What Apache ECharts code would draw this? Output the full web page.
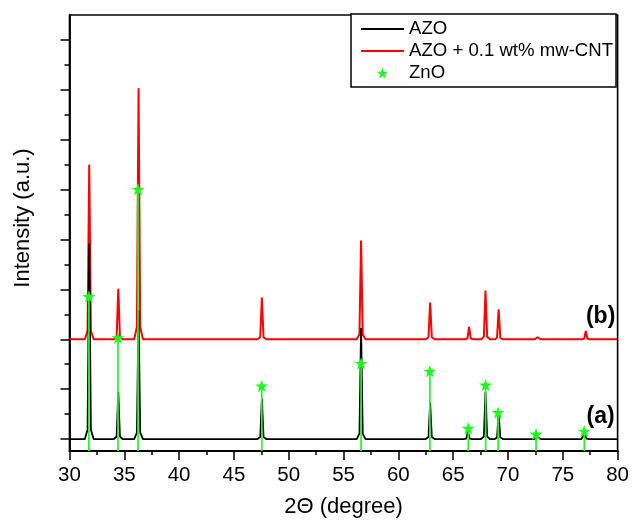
<!DOCTYPE html>
<html>
<head>
<meta charset="utf-8">
<script src="https://cdn.jsdelivr.net/npm/echarts@6/dist/echarts.min.js"></script>
<style>
html,body{margin:0;padding:0;background:#fff;}
#chart{width:632px;height:523px;}
</style>
</head>
<body>
<div id="chart"></div>
<script>
// ---- data ----
const seriesNames = ['AZO', 'AZO + 0.1 wt% mw-CNT', 'ZnO'];

// AZO (a): [2theta, intensity]
const azoCurve = [
  [30,0],
  [31.4,0],[31.65,190],[31.8,3920],[31.95,190],[32.2,0],
  [34.05,0],[34.3,50],[34.45,946],[34.6,50],[34.85,0],
  [35.9,0],[36.15,130],[36.3,2580],[36.45,130],[36.7,0],
  [47.15,0],[47.4,40],[47.55,808],[47.7,40],[47.95,0],
  [56.2,0],[56.45,110],[56.6,2226],[56.75,110],[57.0,0],
  [62.5,0],[62.75,40],[62.9,729],[63.05,40],[63.3,0],
  [65.95,0],[66.2,10],[66.35,158],[66.5,10],[66.75,0],
  [67.55,0],[67.8,50],[67.95,946],[68.1,50],[68.35,0],
  [68.8,0],[69.0,30],[69.15,512],[69.3,30],[69.55,0],
  [72.4,0],[72.7,40],[73.0,0],
  [76.7,0],[76.85,10],[77.0,118],[77.15,10],[77.4,0],
  [80,0]
];

// AZO + 0.1 wt% mw-CNT (b): [2theta, intensity] (offset baseline)
const cntCurve = [
  [30,2000],
  [31.4,2000],[31.65,2170],[31.8,5496],[31.95,2170],[32.2,2000],
  [34.05,2000],[34.3,2050],[34.45,3014],[34.6,2050],[34.85,2000],
  [35.9,2000],[36.15,2250],[36.3,7033],[36.45,2250],[36.7,2000],
  [47.15,2000],[47.4,2040],[47.55,2837],[47.7,2040],[47.95,2000],
  [56.2,2000],[56.45,2100],[56.6,3979],[56.75,2100],[57.0,2000],
  [62.5,2000],[62.75,2040],[62.9,2738],[63.05,2040],[63.3,2000],
  [66.05,2000],[66.3,2015],[66.45,2246],[66.6,2015],[66.85,2000],
  [67.55,2000],[67.8,2050],[67.95,2975],[68.1,2050],[68.35,2000],
  [68.8,2000],[69.0,2030],[69.15,2600],[69.3,2030],[69.55,2000],
  [72.45,2000],[72.7,2040],[72.95,2000],
  [76.75,2000],[76.95,2010],[77.1,2167],[77.25,2010],[77.45,2000],
  [80,2000]
];

// ZnO reference peaks
const znoPos = [31.77, 34.42, 36.25, 47.54, 56.6, 62.87, 66.38, 67.96, 69.1, 72.56, 76.96];
const znoInt = [2857, 2029, 5004, 1064, 1517, 1359, 217, 1084, 532, 99, 158];

// axis
const xMin = 30, xMax = 80, xStep = 5;
const yMin = -240, yMax = 8500;
const yMajorTicks = [0,1000,2000,3000,4000,5000,6000,7000,8000];
const yMinorTicks = [500,1500,2500,3500,4500,5500,6500,7500];

// curve labels
const curveLabels = [
  {text: '(b)', x: 78.45, y: 2460},
  {text: '(a)', x: 78.45, y: 450}
];

// ---- chart ----
const FONT = '"Liberation Sans", Arial, Helvetica, sans-serif';
const GREEN = '#1aff1a';
const starPath = 'path://M50,0 L61.2,34.5 L97.6,34.5 L68.2,55.9 L79.4,90.5 L50,69.1 L20.6,90.5 L31.8,55.9 L2.4,34.5 L38.8,34.5 Z';
const lineIcon = 'path://M0,0 L43,0 L43,2 L0,2 Z';

const chart = echarts.init(document.getElementById('chart'), null, {renderer: 'canvas'});

const znoData = znoPos.map((p, i) => [p, znoInt[i]]);

const option = {
  animation: false,
  backgroundColor: '#fff',
  textStyle: {fontFamily: FONT},
  grid: {
    left: 69.5, right: 11.3, top: 15, bottom: 64.7,
    show: true, borderColor: '#000', borderWidth: 1.6, backgroundColor: 'transparent'
  },
  legend: {
    data: [
      {name: seriesNames[0], icon: lineIcon},
      {name: seriesNames[1], icon: lineIcon},
      {name: seriesNames[2], icon: starPath}
    ],
    orient: 'vertical',
    left: 351, top: 14,
    padding: [5, 3, 4, 10],
    itemWidth: 43, itemHeight: 11, itemGap: 2,
    borderColor: '#000', borderWidth: 1.5,
    backgroundColor: '#fff',
    selectedMode: false,
    textStyle: {fontFamily: FONT, fontSize: 18.6, color: '#000', lineHeight: 20}
  },
  xAxis: {
    type: 'value', min: xMin, max: xMax, interval: xStep,
    name: '2\u0398 (degree)', nameLocation: 'middle', nameGap: 45,
    nameTextStyle: {fontFamily: FONT, fontSize: 22, color: '#000'},
    axisLine: {show: true, onZero: false, lineStyle: {color: '#000', width: 1.8}},
    axisTick: {show: true, inside: false, length: 9, lineStyle: {color: '#000', width: 1.5}},
    minorTick: {show: true, splitNumber: 2, length: 4, lineStyle: {color: '#000', width: 1.5}},
    axisLabel: {fontFamily: FONT, fontSize: 20.5, color: '#000', margin: 14},
    splitLine: {show: false}
  },
  yAxis: [
    {
      type: 'value', min: yMin, max: yMax,
      name: 'Intensity (a.u.)', nameLocation: 'middle', nameGap: 36, nameRotate: 90,
      nameTextStyle: {fontFamily: FONT, fontSize: 22, color: '#000', padding: [0, 0, 0, 30]},
      axisLine: {show: true, onZero: false, lineStyle: {color: '#000', width: 1.8}},
      axisTick: {show: true, length: 9, customValues: yMajorTicks, lineStyle: {color: '#000', width: 1.5}},
      axisLabel: {show: false},
      splitLine: {show: false}
    },
    {
      type: 'value', min: yMin, max: yMax, position: 'left', offset: 0,
      axisLine: {show: false},
      axisTick: {show: true, length: 5, customValues: yMinorTicks, lineStyle: {color: '#000', width: 1.5}},
      axisLabel: {show: false},
      splitLine: {show: false}
    }
  ],
  series: [
    {
      name: seriesNames[1], type: 'line', data: cntCurve,
      symbol: 'none', showSymbol: false, smooth: false,
      lineStyle: {color: '#ff0000', width: 2}, itemStyle: {color: '#ff0000'},
      z: 2,
      markPoint: {
        symbol: 'circle', symbolSize: 0, silent: true,
        label: {show: true, position: 'inside', fontFamily: FONT, fontWeight: 'bold', fontSize: 23, color: '#000', formatter: p => p.name},
        data: [{name: curveLabels[0].text, coord: [curveLabels[0].x, curveLabels[0].y]}]
      }
    },
    {
      name: seriesNames[0], type: 'line', data: azoCurve,
      symbol: 'none', showSymbol: false, smooth: false,
      lineStyle: {color: '#000000', width: 1.8}, itemStyle: {color: '#000000'},
      z: 3,
      markPoint: {
        symbol: 'circle', symbolSize: 0, silent: true,
        label: {show: true, position: 'inside', fontFamily: FONT, fontWeight: 'bold', fontSize: 23, color: '#000', formatter: p => p.name},
        data: [{name: curveLabels[1].text, coord: [curveLabels[1].x, curveLabels[1].y]}]
      }
    },
    {
      name: 'ZnO sticks', type: 'custom', data: znoData, z: 4, silent: true,
      renderItem: function (params, api) {
        const top = api.coord([api.value(0), api.value(1)]);
        const bot = api.coord([api.value(0), yMin]);
        return {
          type: 'line',
          shape: {x1: top[0], y1: top[1], x2: bot[0], y2: bot[1]},
          style: {stroke: GREEN, lineWidth: 1.7}
        };
      }
    },
    {
      name: seriesNames[2], type: 'scatter', data: znoData,
      symbol: starPath, symbolSize: 13, symbolKeepAspect: true,
      itemStyle: {color: GREEN, opacity: 1}, z: 5
    }
  ]
};
chart.setOption(option);
</script>
</body>
</html>
